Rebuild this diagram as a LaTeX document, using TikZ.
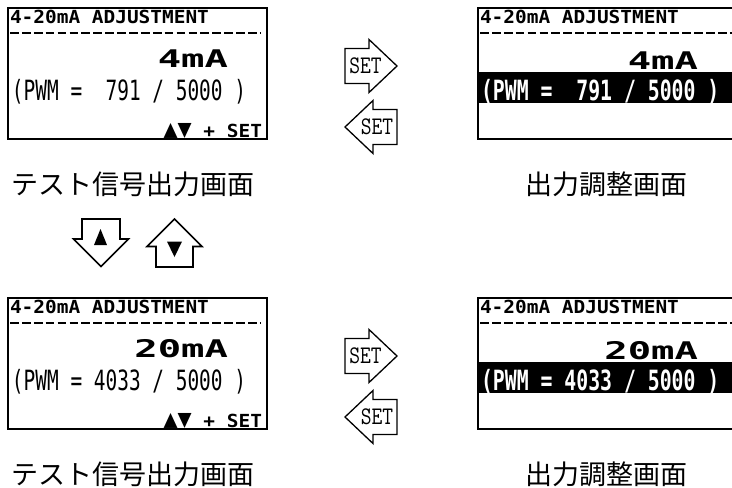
\documentclass[tikz,border=0pt]{standalone}
\usepackage{fontspec}
\newfontfamily\lcdfont{DejaVu Sans Mono}
\newfontfamily\jpfont{Noto Sans CJK JP}
\newcommand\lcdtext[3]{\scalebox{#1}[#2]{\lcdfont\bfseries\fontsize{18pt}{18pt}\selectfont #3}}
\newcommand\lcdthin[3]{\scalebox{#1}[#2]{\lcdfont\fontsize{18pt}{18pt}\selectfont #3}}
\tikzset{
  panel/.style={draw, line width=2.7pt},
  dashline/.style={line width=2.2pt, dash pattern=on 8.7pt off 3.2pt},
  lcd/.style={inner sep=0pt, outer sep=0pt},
  setarrow/.style={draw, line width=1.3pt, line join=miter, fill=white},
  settext/.style={inner sep=0pt, font=\ttfamily\fontsize{22pt}{22pt}\selectfont},
  bigarrow/.style={draw, line width=1.6pt, line join=miter},
  caption/.style={inner sep=0pt, font=\jpfont\fontsize{27pt}{27pt}\selectfont},
}
\newcommand\screenrow[4]{%
\begin{scope}[shift={(0,#1)}]
  % left screen (test signal output)
  \draw[panel] (8,8) rectangle (267,139);
  \node[lcd, anchor=base west] (hl#4) at (10,23) {\lcdtext{1.08}{1.0}{4-20mA ADJUSTMENT}};
  \draw[dashline] (10,33) -- (260,33);
  \node[lcd, anchor=base east] (bl#4) at (228,67.5) {\lcdtext{2.16}{1.35}{#2}};
  \node[lcd, anchor=base west] (pl#4) at (12,100) {\lcdthin{1.08}{1.55}{#3}};
  \node[lcd, anchor=base east] (kl#4) at (262,137) {\lcdtext{1.08}{1.0}{\scalebox{1.2}[1.4]{▲▼}~+ SET}};
  % right screen (output adjustment)
  \fill (478,72) rectangle (760,103);
  \draw[panel] (478,8) rectangle (760,139);
  \node[lcd, anchor=base west] (hr#4) at (480,23) {\lcdtext{1.08}{1.0}{4-20mA ADJUSTMENT}};
  \draw[dashline] (480,33) -- (740,33);
  \node[lcd, anchor=base east] (br#4) at (698,69) {\lcdtext{2.16}{1.35}{#2}};
  \node[lcd, anchor=base west, text=white] (pr#4) at (481,100) {\lcdtext{1.1}{1.55}{#3}};
  % SET arrows
  \draw[setarrow] (345,48.5) -- (369,48.5) -- (369,39.5) -- (397,66) -- (369,92.5) -- (369,83.5) -- (345,83.5) -- cycle;
  \node[settext] (sr#4) at (365.5,66) {\scalebox{0.95}[1.15]{SET}};
  \draw[setarrow] (397,109.5) -- (373,109.5) -- (373,100.5) -- (345,127) -- (373,153.5) -- (373,144.5) -- (397,144.5) -- cycle;
  \node[settext] (sl#4) at (377,127) {\scalebox{0.95}[1.15]{SET}};
  % captions
  \node[caption, anchor=west] (cl#4) at (11,184) {テスト信号出力画面};
  \node[caption] (cr#4) at (606.5,184) {出力調整画面};
\end{scope}}
\begin{document}
\begin{tikzpicture}[x=1pt,y=-1pt]
  \useasboundingbox (0,0) rectangle (732,488);
  \fill[white] (0,0) rectangle (732,488);
  \screenrow{0}{4mA}{(PWM =~~791 / 5000~)}{a}
  \screenrow{290}{20mA}{(PWM = 4033 / 5000~)}{b}
  % down / up arrows
  \draw[bigarrow] (82,219) -- (120,219) -- (120,239) -- (128.5,239) -- (101,266.5) -- (73.5,239) -- (82,239) -- cycle;
  \fill (100.5,229) -- (107,245) -- (94,245) -- cycle;
  \draw[bigarrow] (174.5,219) -- (202,246.5) -- (193,246.5) -- (193,267) -- (156,267) -- (156,246.5) -- (147,246.5) -- cycle;
  \fill (167,241.5) -- (182,241.5) -- (174.5,257) -- cycle;
\end{tikzpicture}
\end{document}
